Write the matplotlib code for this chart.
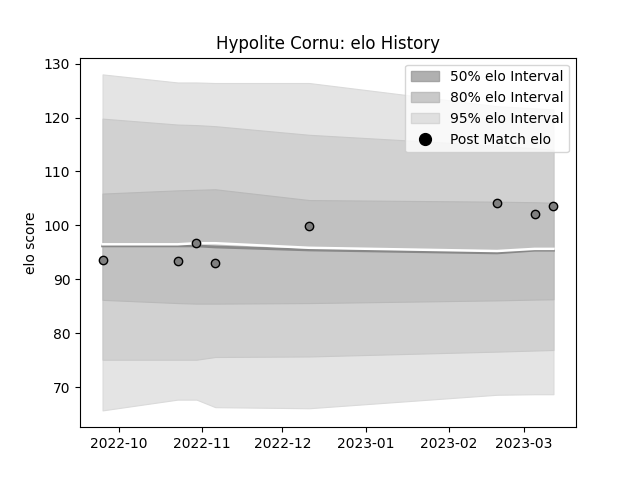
import numpy as np
import pandas as pd
import matplotlib
matplotlib.use("Agg")
import matplotlib.pyplot as plt
from matplotlib.patches import Patch
from matplotlib.lines import Line2D

# match dates (weekly, Sundays)
dates = pd.to_datetime([
    "2022-09-25", "2022-10-23", "2022-10-30", "2022-11-06",
    "2022-12-11", "2023-02-19", "2023-03-05", "2023-03-12",
])

post_match_elo = [93.5, 93.35, 96.65, 93.1, 99.95, 104.15, 102.15, 103.65]

# expected elo (white) and median (gray) lines
mean_elo = [96.5, 96.5, 96.7, 96.7, 95.85, 95.25, 95.65, 95.65]
median_elo = [96.2, 96.2, 96.2, 96.0, 95.45, 94.9, 95.4, 95.4]

# interval bounds
upper_95 = [128.0, 126.5, 126.5, 126.4, 126.4, 122.1, 121.7, 121.5]
upper_80 = [119.8, 118.7, 118.6, 118.4, 116.8, 114.8, 114.3, 114.0]
upper_50 = [105.9, 106.5, 106.6, 106.7, 104.7, 104.4, 104.3, 104.2]
lower_50 = [86.2, 85.6, 85.5, 85.5, 85.6, 86.1, 86.25, 86.3]
lower_80 = [75.1, 75.1, 75.1, 75.6, 75.7, 76.6, 76.8, 76.9]
lower_95 = [65.7, 67.7, 67.7, 66.3, 66.1, 68.6, 68.7, 68.7]

fig, ax = plt.subplots(figsize=(6.4, 4.8), dpi=100)

ax.fill_between(dates, lower_95, upper_95, facecolor="#e4e4e4", edgecolor="#dadada", linewidth=0.8)
ax.fill_between(dates, lower_80, upper_80, facecolor="#d1d1d1", edgecolor="#c9c9c9", linewidth=0.8)
ax.fill_between(dates, lower_50, upper_50, facecolor="#c1c1c1", edgecolor="#b9b9b9", linewidth=0.8)

ax.plot(dates, median_elo, color="#888888", linewidth=2)
ax.plot(dates, mean_elo, color="white", linewidth=1.8)

ax.scatter(dates, post_match_elo, s=36, facecolor="#808080", edgecolor="black", linewidth=1, zorder=3)

handles = [
    Patch(facecolor="#b0b0b0", edgecolor="#a4a4a4", label="50% elo Interval"),
    Patch(facecolor="#c9c9c9", edgecolor="#bebebe", label="80% elo Interval"),
    Patch(facecolor="#e0e0e0", edgecolor="#d6d6d6", label="95% elo Interval"),
    Line2D([], [], linestyle="none", marker="o", markersize=8.5, color="black", label="Post Match elo"),
]
ax.legend(handles=handles, loc="upper right")

ax.set_title("Hypolite Cornu: elo History")
ax.set_ylabel("elo score")

fig.savefig("out.png", dpi=100)
